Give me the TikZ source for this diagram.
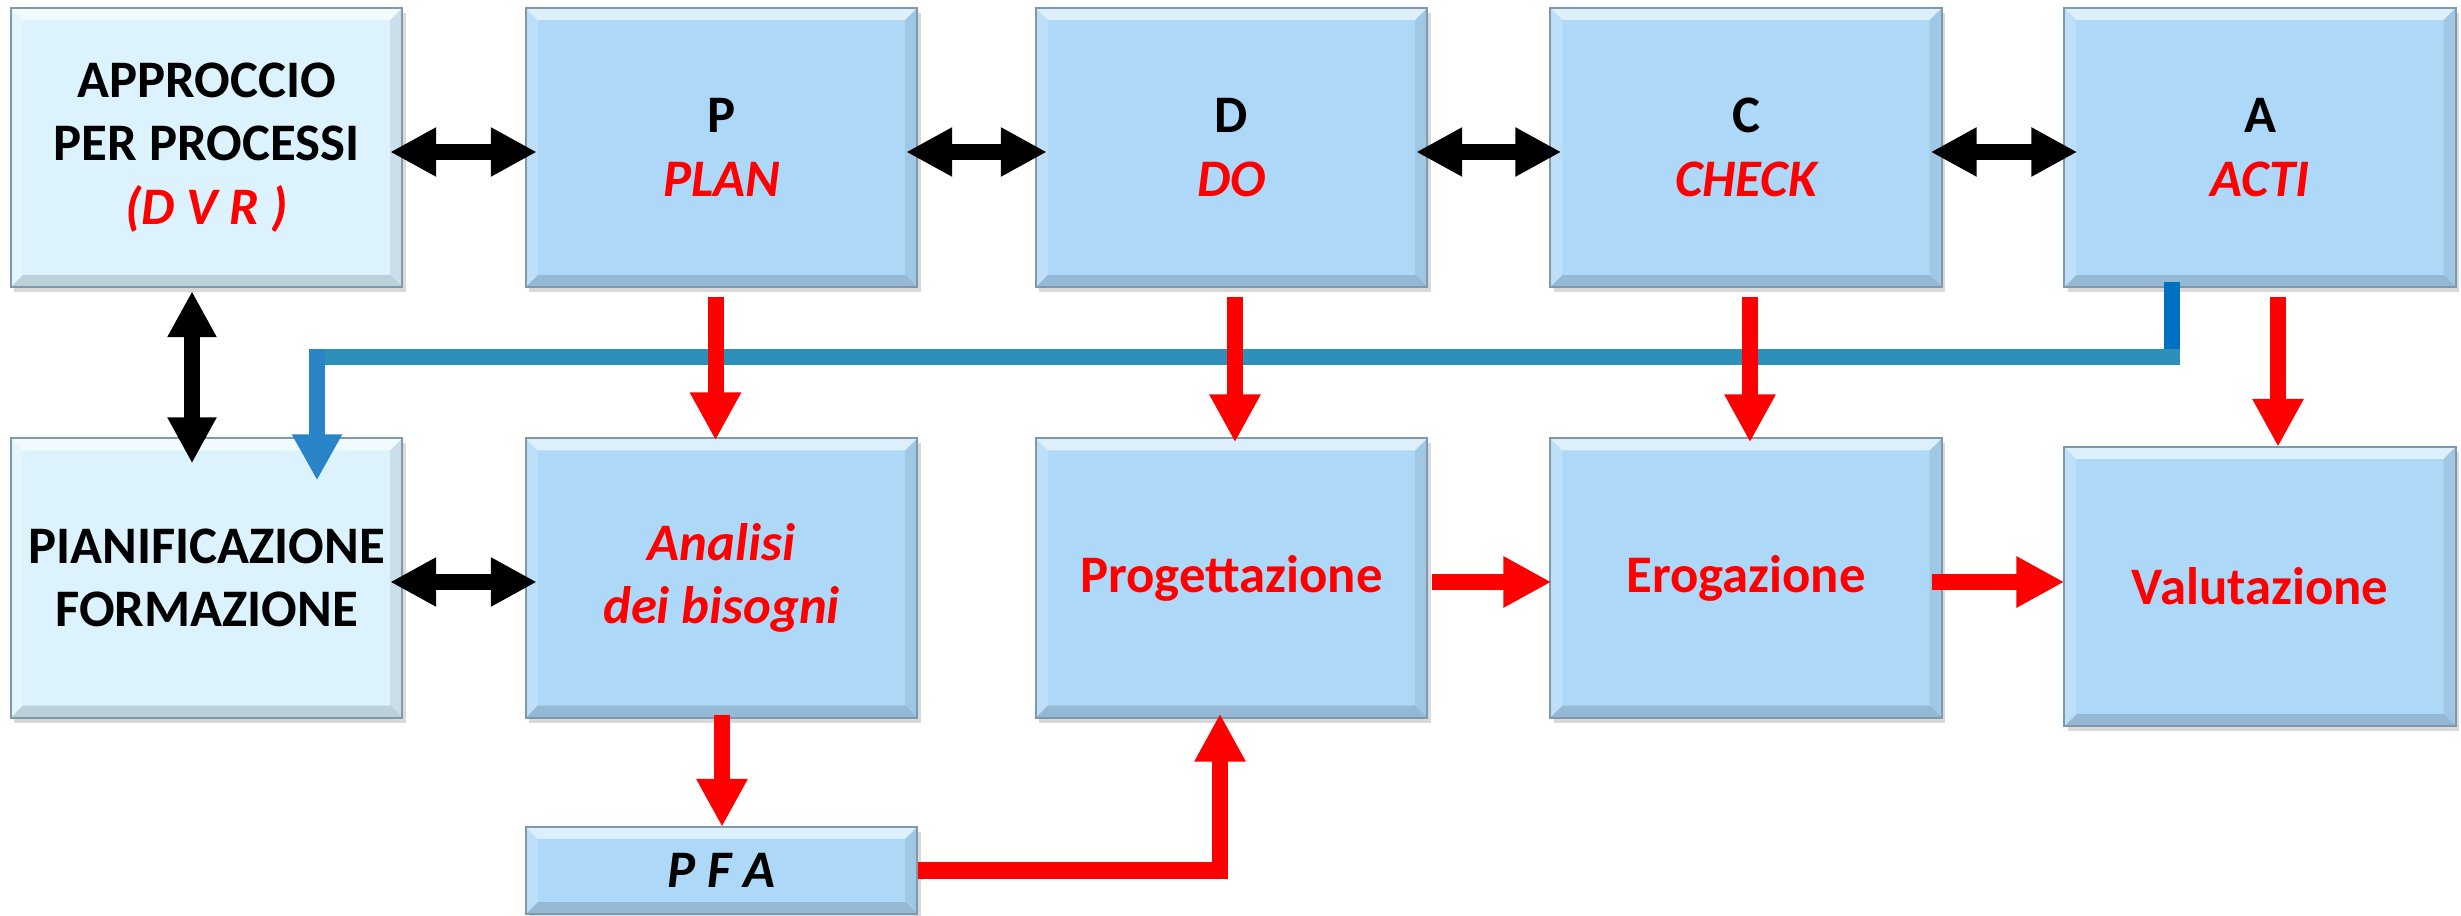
\documentclass[tikz,border=0pt]{standalone}
\usepackage{fontspec}
\setmainfont{Carlito}
\usetikzlibrary{arrows.meta,shadows,calc}
\definecolor{boxfill}{HTML}{AED8F8}
\definecolor{lightfill}{HTML}{DCF3FD}
\definecolor{boxedge}{HTML}{7E98AE}
\definecolor{redc}{HTML}{FF0000}
\definecolor{bluedark}{HTML}{0070C0}
\definecolor{bluemid}{HTML}{2E8FB8}
\definecolor{bluearr}{HTML}{2A84C8}
\tikzset{
  bevel/.style={path picture={
    \def\bd{0.12cm}
    \fill[white,opacity=0.6] (path picture bounding box.north west) -- (path picture bounding box.north east)
       -- ([xshift=-\bd,yshift=-\bd]path picture bounding box.north east) -- ([xshift=\bd,yshift=-\bd]path picture bounding box.north west) -- cycle;
    \fill[black,opacity=0.14] (path picture bounding box.south west) -- (path picture bounding box.south east)
       -- ([xshift=-\bd,yshift=\bd]path picture bounding box.south east) -- ([xshift=\bd,yshift=\bd]path picture bounding box.south west) -- cycle;
    \fill[white,opacity=0.2] (path picture bounding box.north west) -- (path picture bounding box.south west)
       -- ([xshift=\bd,yshift=\bd]path picture bounding box.south west) -- ([xshift=\bd,yshift=-\bd]path picture bounding box.north west) -- cycle;
    \fill[black,opacity=0.08] (path picture bounding box.north east) -- (path picture bounding box.south east)
       -- ([xshift=-\bd,yshift=\bd]path picture bounding box.south east) -- ([xshift=-\bd,yshift=-\bd]path picture bounding box.north east) -- cycle;
  }},
  box/.style={draw=boxedge, line width=0.6pt, fill=boxfill, minimum width=3.91cm, minimum height=2.79cm,
    inner sep=0pt, align=center, font=\fontsize{15}{18}\selectfont\bfseries,
    drop shadow={shadow xshift=0.035cm, shadow yshift=-0.05cm, opacity=0.3}, bevel},
  lbox/.style={box, fill=lightfill},
  itl/.style={font=\fontsize{15}{18}\selectfont\bfseries\itshape},
  blk/.style={draw=black, line width=0.16cm, {Triangle[width=0.46cm,length=0.46cm]}-{Triangle[width=0.46cm,length=0.46cm]}},
  redarr/.style={draw=redc, line width=0.16cm, -{Triangle[width=0.48cm,length=0.48cm]}},
}
\begin{document}
\begin{tikzpicture}[x=0.01cm,y=-0.01cm]
\useasboundingbox (0,0) rectangle (2461,916);
% row 1
\node[lbox] (app) at (206.5,147.5) {APPROCCIO\\PER PROCESSI\\{\color{redc}\itshape (D V R )}};
\node[box] (p) at (721.5,147.5) {P\\{\color{redc}\itshape PLAN}};
\node[box] (d) at (1231.5,147.5) {D\\{\color{redc}\itshape DO}};
\node[box] (c) at (1746,147.5) {C\\{\color{redc}\itshape CHECK}};
\node[box] (a) at (2260,147.5) {A\\{\color{redc}\itshape ACTI}};
% row 2
\node[lbox] (pian) at (206.5,578) {PIANIFICAZIONE\\FORMAZIONE};
\node[box, itl, text=redc] (ana) at (721.5,578) {Analisi\\dei bisogni};
\node[box, text=redc] (prog) at (1231.5,578) {Progettazione};
\node[box, text=redc] (erog) at (1746,578) {Erogazione};
\node[box, text=redc] (val) at (2260,586.5) {Valutazione};
% PFA
\node[box, itl, minimum height=0.87cm] (pfa) at (721.5,870.5) {P F A};

% black double arrows
\draw[blk] ($(app.east)+(-13,4.5)$) -- ($(p.west)+(12,4.5)$);
\draw[blk] ($(p.east)+(-12,4.5)$) -- ($(d.west)+(12,4.5)$);
\draw[blk] ($(d.east)+(-12,4.5)$) -- ($(c.west)+(12,4.5)$);
\draw[blk] ($(c.east)+(-12,4.5)$) -- ($(a.west)+(14,4.5)$);
\draw[blk] ($(app.south)+(-14.5,3)$) -- ($(pian.north)+(-14.5,26)$);
\draw[blk] ($(pian.east)+(-13,4)$) -- ($(ana.west)+(12,4)$);

% blue feedback line
\coordinate (bc) at ($(a.south)+(-88,69)$);
\coordinate (bl) at ($(bc -| pian.north)+(110.5,0)$);
\draw[bluedark, line width=0.16cm] ($(a.south)+(-88,-6)$) -- ($(bc)+(0,8)$);
\draw[bluemid, line width=0.16cm] ($(bc)+(8,0)$) -- ($(bl)+(-8,0)$);
\draw[bluearr, line width=0.16cm, -{Triangle[width=0.47cm,length=0.46cm]}] ($(bl)+(0,-8)$) -- ($(pian.north)+(110.5,43)$);

% red arrows down from PDCA
\draw[redarr] ($(p.south)+(-6,9)$) -- ($(ana.north)+(-6,3)$);
\draw[redarr] ($(d.south)+(3.5,9)$) -- ($(prog.north)+(3.5,5)$);
\draw[redarr] ($(c.south)+(4,9)$) -- ($(erog.north)+(4,5)$);
\draw[redarr] ($(a.south)+(18,9)$) -- ($(val.north)+(18,1)$);

% red flow arrows
\draw[redarr] ($(prog.east)+(4,4)$) -- ($(erog.west)+(2,4)$);
\draw[redarr] ($(erog.east)+(-11,4)$) -- ($(val.west)+(1,-4.5)$);
\draw[redarr] ($(ana.south)+(0.5,-4)$) -- ($(pfa.north)+(0.5,1)$);
\draw[redarr] (pfa.east) -| ($(prog.south)+(-11.5,-5)$);
\end{tikzpicture}
\end{document}
